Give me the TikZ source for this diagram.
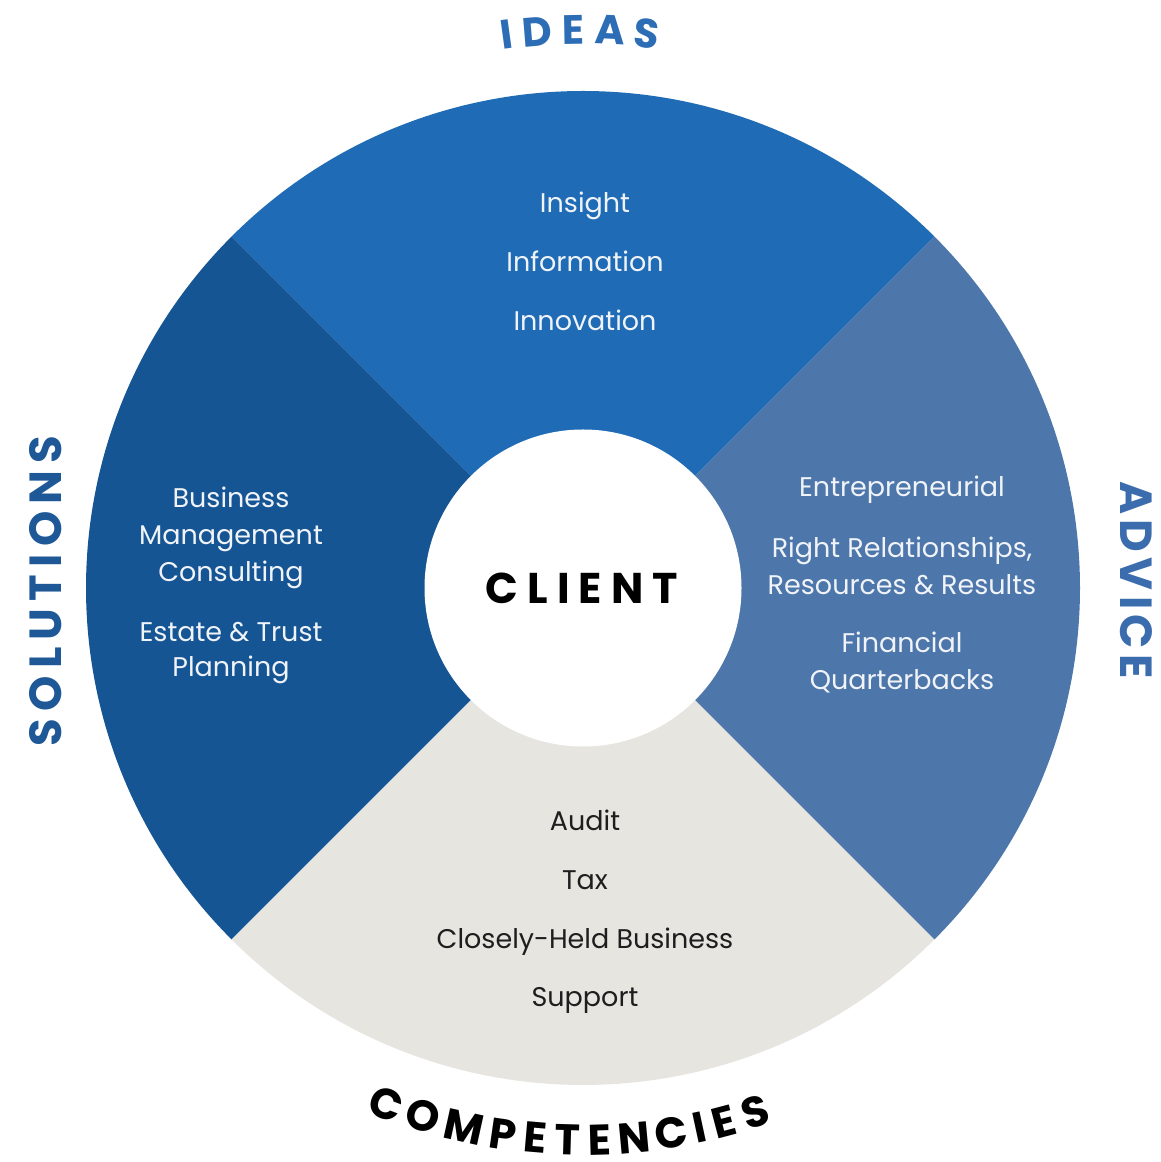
\documentclass[tikz,border=0pt]{standalone}
\usepackage{fontspec}
\setmainfont{Poppins}
\newfontfamily\headfont{Poppins}[LetterSpace=12]
\newfontfamily\solfont{Poppins}[LetterSpace=16]
\newfontfamily\plainhead{Poppins}
\newfontfamily\clientfont{Poppins}[LetterSpace=21]
\definecolor{segtop}{HTML}{1F6BB5}
\definecolor{segleft}{HTML}{165594}
\definecolor{segright}{HTML}{4D76AA}
\definecolor{segbot}{HTML}{E6E5E0}
\definecolor{hideas}{HTML}{2C6DB5}
\definecolor{hadvice}{HTML}{3A6CAE}
\definecolor{hsol}{HTML}{1E5896}
\definecolor{wtext}{HTML}{F0F3F8}
\definecolor{dtext}{HTML}{1E1E1E}
\begin{document}
\begin{tikzpicture}[x=1pt,y=1pt,
  wt/.style={text=wtext, font=\fontsize{27}{30}\selectfont, inner sep=0, anchor=base},
  dt/.style={text=dtext, font=\fontsize{27}{30}\selectfont, inner sep=0, anchor=base},
  ideasltr/.style={font=\plainhead\bfseries\fontsize{41}{46}\selectfont, text=hideas, inner sep=0, anchor=base},
  compltr/.style={font=\plainhead\bfseries\fontsize{43}{48}\selectfont, text=black, inner sep=0, anchor=base},
  headtxt/.style={font=\headfont\bfseries\fontsize{45}{50}\selectfont, inner sep=0, anchor=base}]
\useasboundingbox (0,0) rectangle (1161,1162);
\coordinate (C) at (583,574);
% wheel segments
\fill[segtop] (C) -- ++(45:497) arc[start angle=45,end angle=135,radius=497] -- cycle;
\fill[segleft] (C) -- ++(135:497) arc[start angle=135,end angle=225,radius=497] -- cycle;
\fill[segbot] (C) -- ++(225:497) arc[start angle=225,end angle=315,radius=497] -- cycle;
\fill[segright] (C) -- ++(-45:497) arc[start angle=-45,end angle=45,radius=497] -- cycle;
\node[circle, fill=white, minimum size=317, inner sep=0] (hub) at (C) {};
\node[font=\clientfont\bfseries\fontsize{43}{48}\selectfont, inner sep=0, anchor=base] (client) at (582,558) {CLIENT};
% top segment
\node[wt] (t1) at (585,949) {Insight};
\node[wt] (t2) at (585,890) {Information};
\node[wt] (t3) at (585,831) {Innovation};
% right segment
\node[wt] (r1) at (902,665) {Entrepreneurial};
\node[wt] (r2) at (902,604) {Right Relationships,};
\node[wt] (r3) at (902,567) {Resources \& Results};
\node[wt] (r4) at (902,509) {Financial};
\node[wt] (r5) at (902,472) {Quarterbacks};
% left segment
\node[wt] (l1) at (231,654) {Business};
\node[wt] (l2) at (231,617) {Management};
\node[wt] (l3) at (231,580) {Consulting};
\node[wt] (l4) at (231,520) {Estate \& Trust};
\node[wt] (l5) at (231,485) {Planning};
% bottom segment
\node[dt] (b1) at (585,331) {Audit};
\node[dt] (b2) at (585,272) {Tax};
\node[dt] (b3) at (585,213) {Closely-Held Business};
\node[dt] (b4) at (585,155) {Support};
% curved heading: IDEAS (letters on an arc, tops outward)
\foreach \l/\a [count=\i] in {I/97.83, D/94.72, E/91.01, A/87.25, S/83.41}
  \node[ideasltr, rotate=\a-90] (ideas\i) at ([shift={(\a:544)}]C) {\l};
% curved heading: COMPETENCIES (letters on an arc, tops inward)
\foreach \l/\a [count=\i] in {C/249.15, O/253.14, M/257.54, P/261.68, E/265.10, T/268.39, E/271.68, N/275.31, C/279.23, I/282.17, E/284.81, S/288.15}
  \node[compltr, rotate=\a-270] (comp\i) at ([shift={(\a:567)}]C) {\l};
% straight side headings
\node[headtxt, text=hadvice, rotate=-90] (advice) at (1120,582) {ADVICE};
\node[font=\solfont\bfseries\fontsize{45}{50}\selectfont, inner sep=0, anchor=base, text=hsol, rotate=90] (solutions) at (61,571) {SOLUTIONS};
\end{tikzpicture}
\end{document}
